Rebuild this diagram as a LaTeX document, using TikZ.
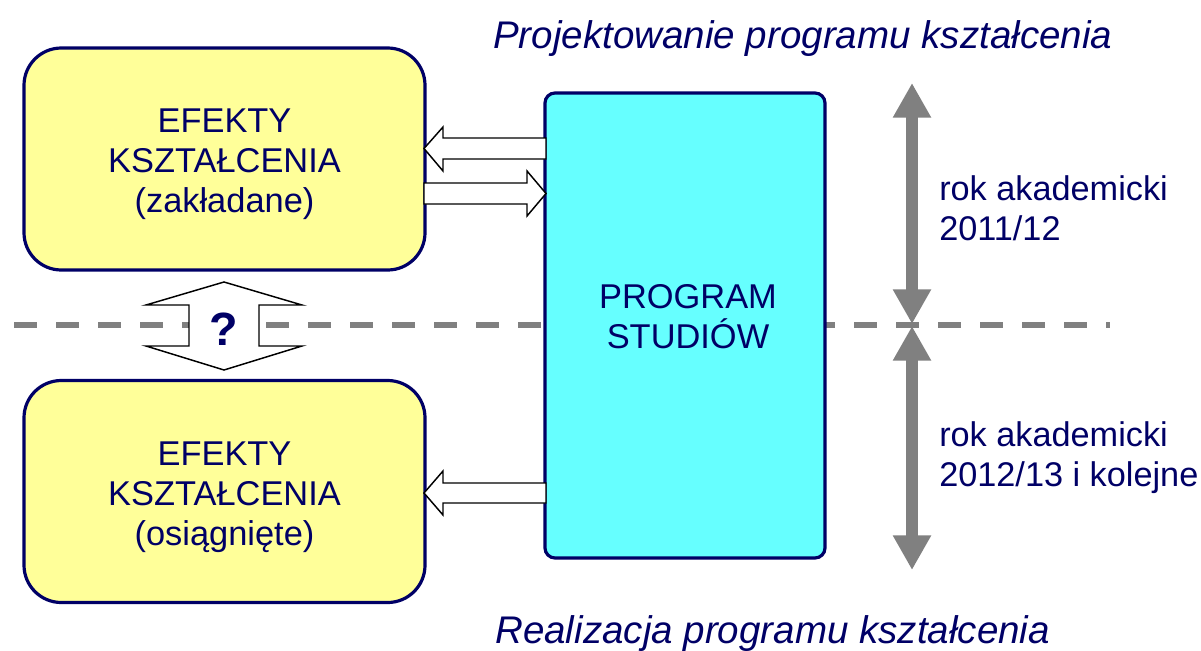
\documentclass[tikz,border=0pt]{standalone}
\usepackage{fontspec}
\setmainfont{Liberation Sans}
\usetikzlibrary{arrows.meta}
\definecolor{navy}{RGB}{0,0,102}
\definecolor{yel}{RGB}{255,255,153}
\definecolor{cyn}{RGB}{102,255,255}
\definecolor{gr}{RGB}{128,128,128}
\begin{document}
\begin{tikzpicture}[x=0.75pt,y=-0.75pt,
  ybox/.style={draw=navy,line width=2.4pt,fill=yel,rounded corners=28pt,
    minimum width=300.75pt,minimum height=166.5pt,inner sep=0pt},
  cbox/.style={draw=navy,line width=2.4pt,fill=cyn,rounded corners=7.5pt,
    minimum width=210pt,minimum height=348.75pt,inner sep=0pt},
  btext/.style={text=navy,align=center,inner sep=0pt,
    font=\fontsize{25.8}{30}\selectfont},
  stext/.style={text=navy,align=left,inner sep=0pt,anchor=west,
    font=\fontsize{25.7}{30}\selectfont},
  title/.style={text=navy,inner sep=0pt,anchor=base west,
    font=\fontsize{28.9}{34}\selectfont\itshape},
  blockarrow/.style={draw=black,fill=white,line width=1.1pt,line join=miter},
  grayarrow/.style={draw=gr,line width=9pt,
    {Triangle[width=27pt,length=26pt]}-{Triangle[width=27pt,length=26pt]}},
  dashline/.style={draw=gr,line width=4.5pt,dash pattern=on 17.25pt off 14.25pt}
]
\useasboundingbox (0,0) rectangle (1201,650);

% dashed separator
\coordinate (d1) at (14,325);
\coordinate (d2) at (1110,325);
\draw[dashline] (d1) -- (d2);

% boxes
\node[ybox] (ek1) at (224.5,159) {};
\node[ybox] (ek2) at (224.5,491.5) {};
\node[cbox] (prog) at (685,325.5) {};

\node[btext] (ek1t) at (224.5,164.5) {EFEKTY\\KSZTAŁCENIA\\(zakładane)};
\node[btext] (ek2t) at (224.5,497) {EFEKTY\\KSZTAŁCENIA\\(osiągnięte)};
\node[btext] (progt) at (688,317) {PROGRAM\\STUDIÓW};

% block arrows between boxes
\draw[blockarrow] (424,148.5) -- (443,127) -- (443,138) -- (546,138) -- (546,159)
  -- (443,159) -- (443,171) -- cycle;
\draw[blockarrow] (546,193.5) -- (527,171) -- (527,183) -- (424,183) -- (424,204)
  -- (527,204) -- (527,216) -- cycle;
\draw[blockarrow] (424,493) -- (443,471) -- (443,483) -- (546,483) -- (546,503)
  -- (443,503) -- (443,515) -- cycle;

% question double arrow
\draw[blockarrow] (224,282) -- (302,305) -- (259,305) -- (259,346) -- (302,346)
  -- (224,370) -- (146,346) -- (189,346) -- (189,305) -- (146,305) -- cycle;
\node[text=navy,inner sep=0pt,font=\fontsize{35}{40}\selectfont\bfseries] (q) at (224,329) {?};

% gray time arrows
\coordinate (g1) at (912,83);
\coordinate (g2) at (912,324);
\coordinate (g3) at (912,326);
\coordinate (g4) at (912,570);
\draw[grayarrow] (g1) -- (g2);
\draw[grayarrow] (g3) -- (g4);

% side texts
\node[stext] (rok1) at (939,208) {rok akademicki\\2011/12};
\node[stext] (rok2) at (939,457.5) {rok akademicki\\2012/13 i kolejne};

% titles
\node[title] (t1) at (493,48) {Projektowanie programu kształcenia};
\node[title] (t2) at (495,643) {Realizacja programu kształcenia};
\end{tikzpicture}
\end{document}
